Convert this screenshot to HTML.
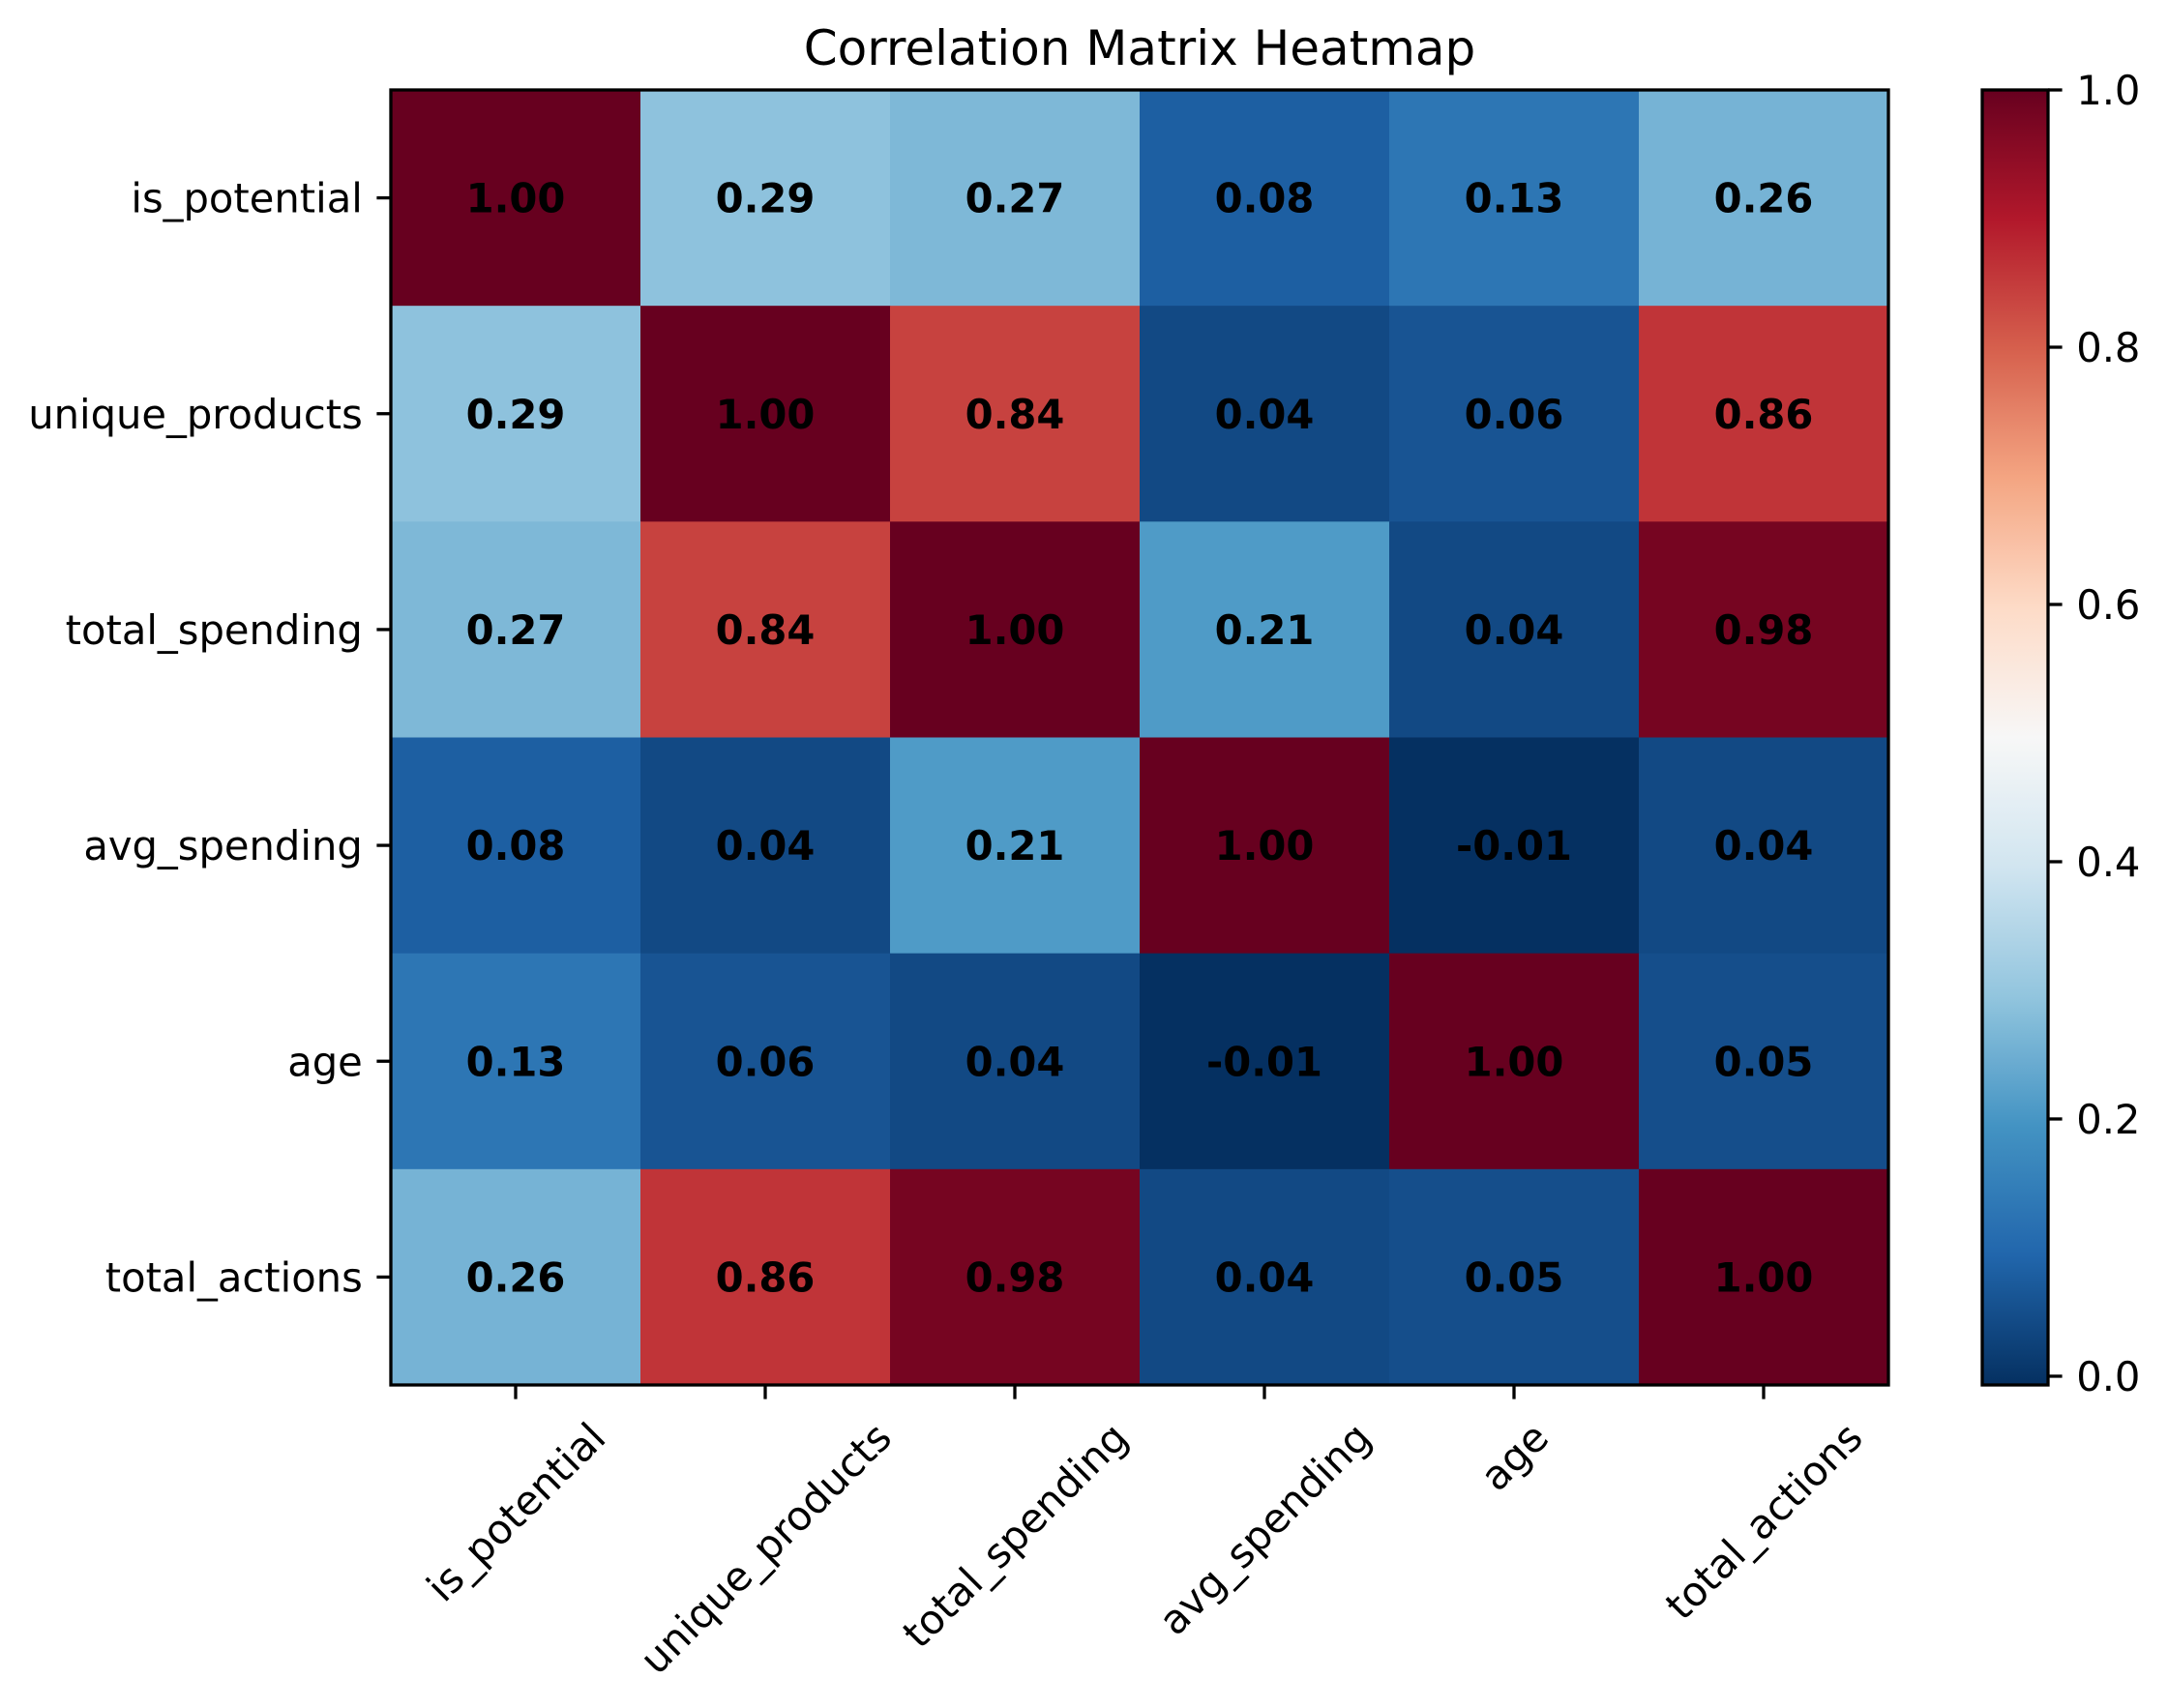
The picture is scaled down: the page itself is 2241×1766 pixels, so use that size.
<!DOCTYPE html>
<html><head><meta charset="utf-8">
<style>
html,body{margin:0;padding:0;background:#fff;}
svg{display:block;font-family:"DejaVu Sans","Liberation Sans",sans-serif;}
</style></head>
<body>
<svg id="chart" width="2241" height="1766" viewBox="0 0 2241 1766" xmlns="http://www.w3.org/2000/svg">
<rect width="2241" height="1766" fill="#fff"/>
<text x="1178" y="67" font-size="50" text-anchor="middle" fill="#000">Correlation Matrix Heatmap</text>
<g id="cells"></g>
<g id="annots"></g>
<g id="xticks"></g>
<g id="yticks"></g>
<g id="cbar"></g>
</svg>
<script>
const labels = ["is_potential","unique_products","total_spending","avg_spending","age","total_actions"];
const row0 = [1.00,0.29,0.27,0.08,0.13,0.26];
const row1 = [0.29,1.00,0.84,0.04,0.06,0.86];
const row2 = [0.27,0.84,1.00,0.21,0.04,0.98];
const row3 = [0.08,0.04,0.21,1.00,-0.01,0.04];
const row4 = [0.13,0.06,0.04,-0.01,1.00,0.05];
const row5 = [0.26,0.86,0.98,0.04,0.05,1.00];
const matrix = [row0,row1,row2,row3,row4,row5];
const cbarTicks = [0.0,0.2,0.4,0.6,0.8,1.0];
const vmin = -0.0068, vmax = 1.0;

const NS="http://www.w3.org/2000/svg";
const FS=41.67;
const L=404,R=1952,T=93,B=1432;
const n=labels.length, cw=(R-L)/n, ch=(B-T)/n;
const xPos=i=>L+i*cw, yPos=j=>T+j*ch;
const stops=["#053061","#2166ac","#4393c3","#92c5de","#d1e5f0","#f7f7f7","#fddbc7","#f4a582","#d6604d","#b2182b","#67001f"];
function hex(h){return [1,3,5].map(k=>parseInt(h.substr(k,2),16));}
function cmap(v){
  let t=(v-vmin)/(vmax-vmin); t=Math.max(0,Math.min(1,t));
  const p=t*(stops.length-1), i=Math.min(Math.floor(p),stops.length-2), f=p-i;
  const a=hex(stops[i]), b=hex(stops[i+1]);
  return "rgb("+a.map((c,k)=>Math.round(c+(b[k]-c)*f)).join(",")+")";
}
function mk(tag,attrs,parent){const e=document.createElementNS(NS,tag);for(const k in attrs)e.setAttribute(k,attrs[k]);parent.appendChild(e);return e;}
const svg=document.getElementById("chart");
const gc=document.getElementById("cells"), ga=document.getElementById("annots");
matrix.forEach((row,j)=>row.forEach((v,i)=>{
  const r=mk("rect",{x:xPos(i),y:yPos(j),width:cw+0.5,height:ch+0.5,fill:cmap(v)},gc);
  
  
  const t=mk("text",{x:xPos(i)+cw/2,y:yPos(j)+ch/2+15,"font-size":FS,"font-weight":"bold","text-anchor":"middle",fill:"#000"},ga);
  t.textContent=v.toFixed(2);
  
  
}));
const frame=mk("rect",{x:L,y:T,width:R-L,height:B-T,fill:"none",stroke:"#000","stroke-width":3.3},svg);


const gy=document.getElementById("yticks"), gx=document.getElementById("xticks");
labels.forEach((lab,j)=>{
  const y=yPos(j)+ch/2;
  const tk=mk("line",{x1:L-14.6,x2:L,y1:y,y2:y,stroke:"#000","stroke-width":3.3},gy);
  
  
  const t=mk("text",{x:L-14.6-14.6,y:y+15,"font-size":FS,"text-anchor":"end",fill:"#000"},gy);
  t.textContent=lab;
  
  
});
labels.forEach((lab,i)=>{
  const x=xPos(i)+cw/2;
  const tk=mk("line",{x1:x,x2:x,y1:B,y2:B+14.6,stroke:"#000","stroke-width":3.3},gx);
  
  
  const t=mk("text",{x:0,y:0,"font-size":FS,"text-anchor":"middle",fill:"#000"},gx);
  t.textContent=lab;
  
  
  const w=t.getComputedTextLength(), h=FS*1.17;
  const half=(w*Math.SQRT1_2+h*Math.SQRT1_2)/2;
  const cy=B+14.6+14.6+half;
  t.setAttribute("transform","translate("+x+","+cy+") rotate(-45) translate(0,"+(FS*0.36)+")");
});
const gb=document.getElementById("cbar");
const CL=2049,CR=2117,CT=93,CB=1432;
const cy=v=>CB-(v-vmin)/(vmax-vmin)*(CB-CT);
const grad=mk("linearGradient",{id:"cg",x1:0,y1:1,x2:0,y2:0},mk("defs",{},gb));
for(let k=0;k<=40;k++){const v=vmin+(vmax-vmin)*k/40;mk("stop",{offset:k/40,"stop-color":cmap(v)},grad);}
const bar=mk("rect",{x:CL,y:CT,width:CR-CL,height:CB-CT,fill:"url(#cg)",stroke:"#000","stroke-width":3.3},gb);


cbarTicks.forEach(v=>{
  const y=cy(v);
  const tk=mk("line",{x1:CR,x2:CR+14.6,y1:y,y2:y,stroke:"#000","stroke-width":3.3},gb);
  
  
  const t=mk("text",{x:CR+14.6+14.6,y:y+15,"font-size":FS,fill:"#000"},gb);
  t.textContent=v.toFixed(1);
  
  
});
</script>
</body></html>
